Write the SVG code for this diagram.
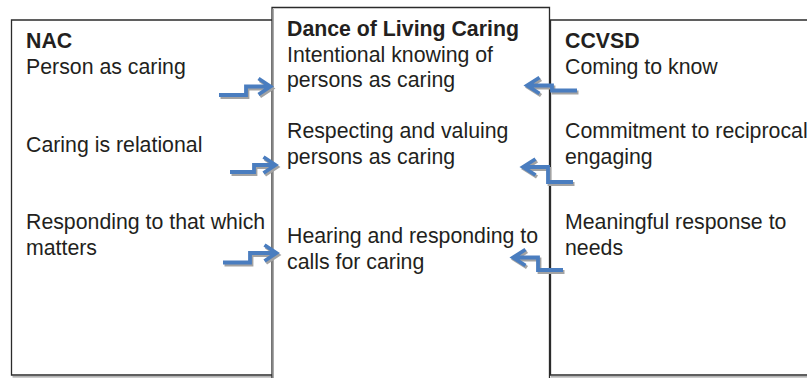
<svg xmlns="http://www.w3.org/2000/svg" width="807" height="378" viewBox="0 0 807 378">
  <style>
    .frame { fill: none; stroke: #2b2b2b; stroke-width: 1.3; }
    .frame-shadow { fill: none; stroke: #9a9a9a; stroke-width: 1.3; }
    text { font-family: "Liberation Sans", Arial, sans-serif; font-size: 21.3px; fill: #231f20; }
    .title { font-weight: bold; }
    .arrow { fill: none; stroke: #4a7dbf; stroke-width: 3.8; stroke-linejoin: miter; stroke-linecap: butt; }
    .arrow-shadow { fill: none; stroke: #a3a3a3; stroke-width: 3.8; stroke-linejoin: miter; stroke-linecap: butt; }
  </style>
  <defs>
    <!-- stepped connectors with open chevron heads -->
    <path id="a-left-1" d="M219,95 H246 V86.5 H270 M258.5,78.5 L270.5,86.5 L258.5,94.5"/>
    <path id="a-left-2" d="M230,172 H254 V165 H275 M263.5,157 L275.5,165 L263.5,173"/>
    <path id="a-left-3" d="M223,262.5 H250 V253 H276 M264.5,245 L276.5,253 L264.5,261"/>
    <path id="a-right-1" d="M577,90.5 H552 V85.5 H527 M539.5,77.5 L527,85.5 L539.5,93.5"/>
    <path id="a-right-2" d="M573,182 H548 V167 H523 M535.5,159 L523,167 L535.5,175"/>
    <path id="a-right-3" d="M563,270 H538 V257.5 H513 M525.5,249.5 L513,257.5 L525.5,265.5"/>
  </defs>

  <rect width="807" height="378" fill="#ffffff"/>

  <g id="nac">
    <path class="frame-shadow" d="M12.5,376.8 H272.5"/>
    <path class="frame" d="M272,20 H11.5 V375 H272"/>
    <text class="title" x="26" y="48">NAC</text>
    <text x="26" y="74">Person as caring</text>
    <text x="26" y="152">Caring is relational</text>
    <text x="26" y="229">Responding to that which</text>
    <text x="26" y="255">matters</text>
  </g>

  <g id="dance">
    <path class="frame" d="M272,378 V7.5 H549.5 V378"/>
    <path class="frame-shadow" d="M273.2,9 V378"/>
    <text class="title" x="287" y="36">Dance of Living Caring</text>
    <text x="287" y="62">Intentional knowing of</text>
    <text x="287" y="87">persons as caring</text>
    <text x="287" y="138">Respecting and valuing</text>
    <text x="287" y="164">persons as caring</text>
    <text x="287" y="243">Hearing and responding to</text>
    <text x="287" y="269">calls for caring</text>
  </g>

  <g id="ccvsd">
    <path class="frame-shadow" d="M551,376.8 H807"/>
    <path class="frame" d="M807,20 H550.5 V375 H807"/>
    <text class="title" x="565" y="48">CCVSD</text>
    <text x="565" y="74">Coming to know</text>
    <text x="565" y="138">Commitment to reciprocal</text>
    <text x="565" y="164">engaging</text>
    <text x="565" y="229">Meaningful response to</text>
    <text x="565" y="255">needs</text>
  </g>

  <g id="connectors">
    <use href="#a-left-1" class="arrow-shadow" transform="translate(1.5,2)"/>
    <use href="#a-left-2" class="arrow-shadow" transform="translate(1.5,2)"/>
    <use href="#a-left-3" class="arrow-shadow" transform="translate(1.5,2)"/>
    <use href="#a-right-1" class="arrow-shadow" transform="translate(1.5,2)"/>
    <use href="#a-right-2" class="arrow-shadow" transform="translate(1.5,2)"/>
    <use href="#a-right-3" class="arrow-shadow" transform="translate(1.5,2)"/>
    <use href="#a-left-1" class="arrow"/>
    <use href="#a-left-2" class="arrow"/>
    <use href="#a-left-3" class="arrow"/>
    <use href="#a-right-1" class="arrow"/>
    <use href="#a-right-2" class="arrow"/>
    <use href="#a-right-3" class="arrow"/>
  </g>
</svg>
